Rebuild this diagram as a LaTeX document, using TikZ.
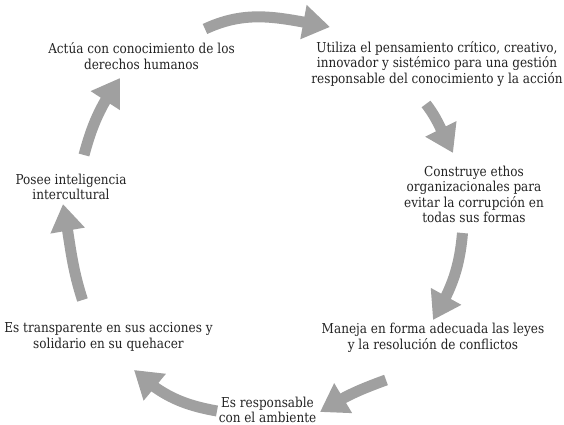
\documentclass[tikz,border=0pt]{standalone}
\usepackage{fontspec}
\setmainfont{DejaVu Serif}[FakeStretch=0.88]
\usetikzlibrary{arrows.meta,bending}
\definecolor{arrgray}{RGB}{160,160,160}
\definecolor{txt}{RGB}{35,35,35}
\begin{document}
\begin{tikzpicture}[x=1pt,y=1pt,
  lbl/.style={align=center, text=txt, font=\fontsize{13.7}{15.5}\selectfont, inner sep=0pt},
  cyc/.style={draw=arrgray, line width=11pt, -{Triangle[length=27pt,width=33pt]}}]
\useasboundingbox (0,0) rectangle (564,425);
\node[lbl] (n1) at (141.5,369) {Actúa con conocimiento de los\\derechos humanos};
\node[lbl] (n2) at (437,361) {Utiliza el pensamiento crítico, creativo,\\innovador y sistémico para una gestión\\responsable del conocimiento y la acción};
\node[lbl] (n3) at (474,230.5) {Construye ethos\\organizacionales para\\evitar la corrupción en\\todas sus formas};
\node[lbl] (n4) at (71,238) {Posee inteligencia\\intercultural};
\node[lbl] (n5) at (108.5,88) {Es transparente en sus acciones y\\solidario en su quehacer};
\node[lbl] (n6) at (433,87) {Maneja en forma adecuada las leyes\\y la resolución de conflictos};
\node[lbl] (n7) at (267.5,15) {Es responsable\\con el ambiente};
\coordinate (a1s) at (205,396); \coordinate (a1e) at (330,398);
\coordinate (a2s) at (426,321); \coordinate (a2e) at (453,272);
\coordinate (a3s) at (462.5,192); \coordinate (a3e) at (433,105);
\coordinate (a4s) at (386,45); \coordinate (a4e) at (320,13);
\coordinate (a5s) at (217,14); \coordinate (a5e) at (134,55);
\coordinate (a6s) at (82.5,125); \coordinate (a6e) at (63,221);
\coordinate (a7s) at (84,270); \coordinate (a7e) at (120,347);
\draw[cyc] (a1s) to[out=25,in=170] (a1e);
\draw[cyc] (a2s) to[out=-52,in=120] (a2e);
\draw[cyc] (a3s) to[out=-95,in=59] (a3e);
\draw[cyc] (a4s) to[out=-160,in=33] (a4e);
\draw[cyc] (a5s) to[out=170,in=-43] (a5e);
\draw[cyc] (a6s) to[out=108,in=-79] (a6e);
\draw[cyc] (a7s) to[out=75,in=235] (a7e);
\end{tikzpicture}
\end{document}
